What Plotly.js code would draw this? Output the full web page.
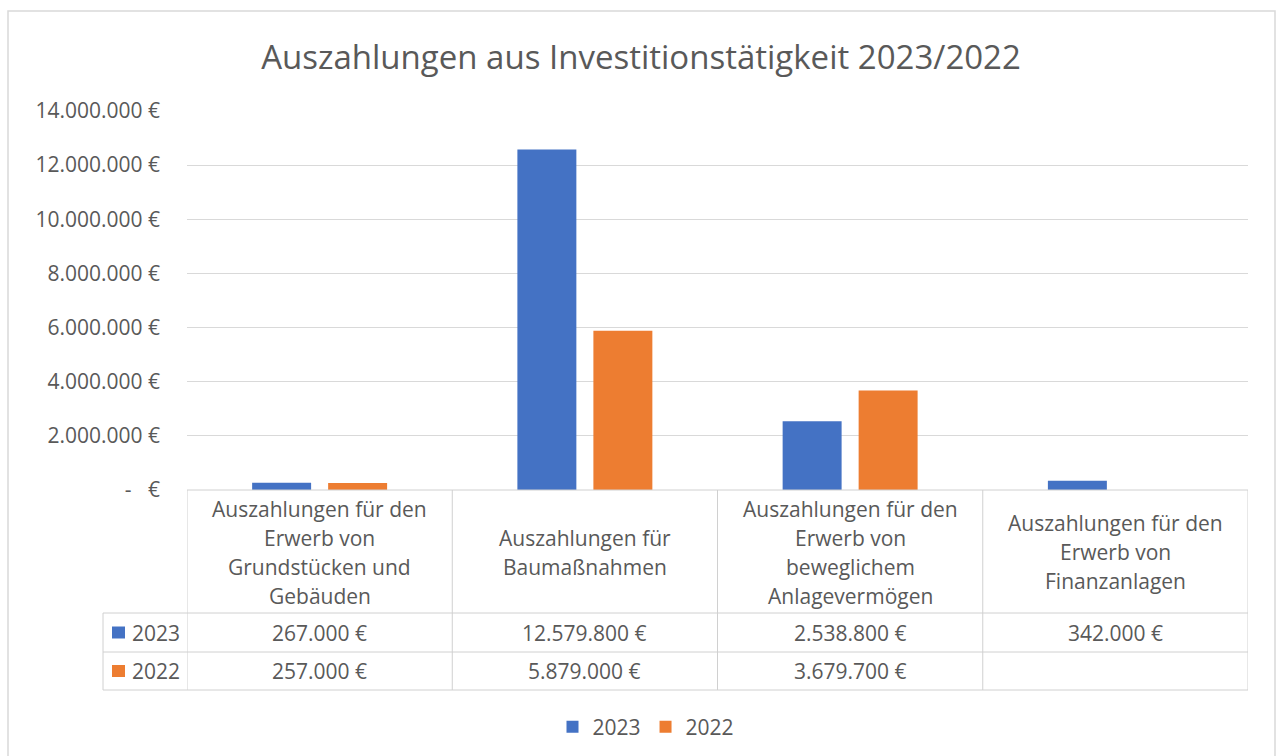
<!DOCTYPE html>
<html>
<head>
<meta charset="utf-8">
<script src="https://cdn.plot.ly/plotly-3.0.1.min.js"></script>
<style>html,body{margin:0;padding:0;background:#fff;}#chart{width:1281px;height:756px;}</style>
</head>
<body>
<div id="chart"></div>
<script>
const categories = [
  "Auszahlungen für den<br>Erwerb von<br>Grundstücken und<br>Gebäuden",
  "Auszahlungen für<br>Baumaßnahmen",
  "Auszahlungen für den<br>Erwerb von<br>beweglichem<br>Anlagevermögen",
  "Auszahlungen für den<br>Erwerb von<br>Finanzanlagen"
];
const seriesNames = ["2023", "2022"];
const values2023 = [267000, 12579800, 2538800, 342000];
const values2022 = [257000, 5879000, 3679700, null];
const tickVals = [0, 2000000, 4000000, 6000000, 8000000, 10000000, 12000000, 14000000];
const tickText = ["-\u00a0\u00a0\u00a0€", "2.000.000 €", "4.000.000 €", "6.000.000 €", "8.000.000 €", "10.000.000 €", "12.000.000 €", "14.000.000 €"];

const colors = ["#4472C4", "#ED7D31"];
const FONT = "'Open Sans', sans-serif";
const TXT = "#595959";
const LINE = "#d0d0d0";

function fmt(v) {
  if (v === null || v === undefined) return "";
  return String(Math.round(v)).replace(/\B(?=(\d{3})+(?!\d))/g, ".") + " €";
}

// layout geometry (pixels)
const W = 1281, H = 756;
const L = 187, R = 1248, T = 111, B = 490;
const px = x => (x - L) / (R - L);
const py = y => (B - y) / (B - T);

const rowLabelX = 103;
const rowTops = [490, 613, 652, 690];
const headerCenter = 552;
const lineStep = 29;

const traces = [
  {type: "bar", name: seriesNames[0], x: categories, y: values2023, marker: {color: colors[0]}, hoverinfo: "none"},
  {type: "bar", name: seriesNames[1], x: categories, y: values2022, marker: {color: colors[1]}, hoverinfo: "none"}
];

const shapes = [];
const annotations = [];

// outer chart border
shapes.push({type: "rect", xref: "paper", yref: "paper", x0: px(8), x1: px(1275), y0: py(11), y1: py(770),
  line: {color: "#d9d9d9", width: 1.5}, layer: "below"});

// table horizontal lines
shapes.push({type: "line", xref: "paper", yref: "paper", x0: 0, x1: 1, y0: py(490), y1: py(490), line: {color: LINE, width: 1}});
[613, 652, 690].forEach(y => {
  shapes.push({type: "line", xref: "paper", yref: "paper", x0: px(rowLabelX), x1: 1, y0: py(y), y1: py(y), line: {color: LINE, width: 1}});
});
// vertical lines
for (let i = 0; i <= categories.length; i++) {
  shapes.push({type: "line", xref: "x", yref: "paper", x0: i - 0.5, x1: i - 0.5, y0: py(490), y1: py(690), line: {color: LINE, width: 1}});
}
shapes.push({type: "line", xref: "paper", yref: "paper", x0: px(rowLabelX), x1: px(rowLabelX), y0: py(613), y1: py(690), line: {color: LINE, width: 1}});

// category headers (one annotation per line for Excel-like line spacing)
categories.forEach((c, i) => {
  const lines = c.split("<br>");
  const n = lines.length;
  lines.forEach((ln, k) => {
    const yc = headerCenter + (k - (n - 1) / 2) * lineStep;
    annotations.push({xref: "x", yref: "paper", x: i, y: py(yc), text: ln, showarrow: false,
      xanchor: "center", yanchor: "middle", align: "center",
      font: {family: FONT, size: 21, color: TXT}});
  });
});
// values rows
const rows = [values2023, values2022];
rows.forEach((vals, r) => {
  const yc = (rowTops[r + 1] + rowTops[r + 2]) / 2;
  vals.forEach((v, i) => {
    annotations.push({xref: "x", yref: "paper", x: i, y: py(yc), text: fmt(v), showarrow: false,
      xanchor: "center", yanchor: "middle", font: {family: FONT, size: 21, color: TXT}});
  });
  // row label key
  shapes.push({type: "rect", xref: "paper", yref: "paper", x0: px(112), x1: px(125), y0: py(yc - 6), y1: py(yc + 6),
    fillcolor: colors[r], line: {width: 0}});
  annotations.push({xref: "paper", yref: "paper", x: px(130), y: py(yc), text: seriesNames[r], showarrow: false,
    xanchor: "left", yanchor: "middle", font: {family: FONT, size: 21, color: TXT}});
});

const layout = {
  width: W, height: H,
  margin: {l: L, r: W - R, t: T, b: H - B, pad: 0},
  paper_bgcolor: "#ffffff", plot_bgcolor: "#ffffff",
  title: {text: "Auszahlungen aus Investitionstätigkeit 2023/2022", x: 641 / W, xanchor: "center", xref: "container",
    y: 1 - 57 / H, yanchor: "middle", yref: "container",
    font: {family: FONT, size: 33, color: TXT}},
  barmode: "group", bargap: 0.427, bargroupgap: 0.224,
  xaxis: {type: "category", showticklabels: false, showgrid: false, zeroline: false, showline: false, ticks: "",
    range: [-0.5, categories.length - 0.5], fixedrange: true},
  yaxis: {range: [0, 14000000], tickvals: tickVals, ticktext: tickText, showgrid: true, gridcolor: "#d9d9d9", gridwidth: 1,
    zeroline: false, showline: false, ticks: "", ticklabelstandoff: 26,
    tickfont: {family: FONT, size: 21, color: TXT}, fixedrange: true},
  showlegend: true,
  legend: {orientation: "h", xref: "container", yref: "container", x: 646 / W, xanchor: "center", y: 1 - 727 / H, yanchor: "middle",
    font: {family: FONT, size: 21, color: TXT}, itemwidth: 30, traceorder: "normal"},
  shapes: shapes,
  annotations: annotations
};

Plotly.newPlot("chart", traces, layout, {staticPlot: true, displayModeBar: false});
</script>
</body>
</html>
